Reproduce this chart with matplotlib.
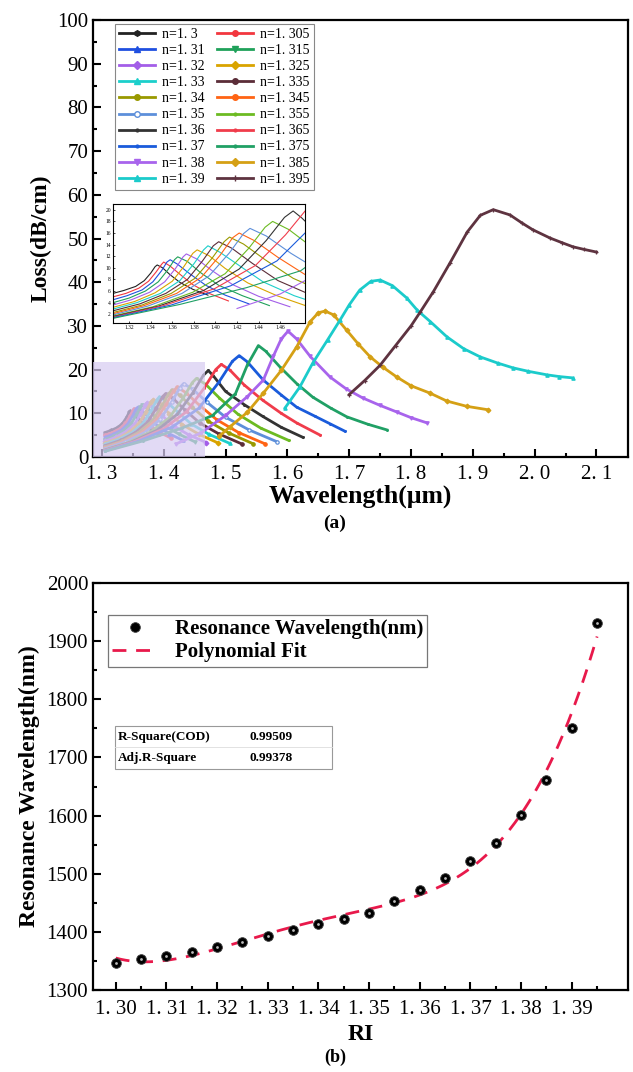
import numpy as np
import matplotlib.pyplot as plt
from matplotlib.patches import Rectangle
from matplotlib.lines import Line2D

plt.rcParams['font.family'] = ['Liberation Serif', 'DejaVu Serif']
plt.rcParams['mathtext.fontset'] = 'stix'

# ---------------- panel (a) data: loss spectra ----------------
ri = [1.300, 1.305, 1.310, 1.315, 1.320, 1.325, 1.330, 1.335, 1.340, 1.345,
      1.350, 1.355, 1.360, 1.365, 1.370, 1.375, 1.380, 1.385, 1.390, 1.395]
ri_labels = ['n=1. 3', 'n=1. 305', 'n=1. 31', 'n=1. 315', 'n=1. 32', 'n=1. 325',
             'n=1. 33', 'n=1. 335', 'n=1. 34', 'n=1. 345', 'n=1. 35', 'n=1. 355',
             'n=1. 36', 'n=1. 365', 'n=1. 37', 'n=1. 375', 'n=1. 38', 'n=1. 385',
             'n=1. 39', 'n=1. 395']

wl_1300 = [1.305, 1.315, 1.326, 1.334, 1.340, 1.344, 1.346, 1.351, 1.358, 1.367, 1.379, 1.393]
loss_1300 = [5.6, 6.1, 6.8, 7.8, 9.1, 10.2, 10.5, 10.0, 8.8, 7.5, 6.3, 5.3]
wl_1305 = [1.305, 1.317, 1.329, 1.338, 1.345, 1.350, 1.352, 1.358, 1.367, 1.379, 1.394, 1.412]
loss_1305 = [5.0, 5.6, 6.5, 7.7, 9.3, 10.6, 11.0, 10.3, 8.9, 7.1, 5.6, 4.3]
wl_1310 = [1.305, 1.318, 1.332, 1.342, 1.350, 1.355, 1.358, 1.365, 1.376, 1.391, 1.409, 1.431]
loss_1310 = [4.5, 5.2, 6.2, 7.6, 9.5, 11.0, 11.4, 10.6, 9.0, 7.0, 5.3, 3.8]
wl_1315 = [1.305, 1.320, 1.335, 1.347, 1.356, 1.362, 1.365, 1.374, 1.386, 1.403, 1.425, 1.450]
loss_1315 = [4.0, 4.8, 6.0, 7.6, 9.7, 11.4, 11.9, 11.1, 9.2, 7.0, 5.2, 3.5]
wl_1320 = [1.305, 1.322, 1.339, 1.353, 1.363, 1.370, 1.373, 1.383, 1.397, 1.416, 1.440, 1.469]
loss_1320 = [3.6, 4.5, 5.8, 7.6, 9.9, 11.9, 12.4, 11.5, 9.5, 7.1, 5.1, 3.3]
wl_1325 = [1.305, 1.325, 1.344, 1.360, 1.371, 1.379, 1.383, 1.394, 1.409, 1.430, 1.457, 1.488]
loss_1325 = [3.2, 4.2, 5.7, 7.7, 10.3, 12.5, 13.1, 12.1, 9.9, 7.4, 5.2, 3.2]
wl_1330 = [1.305, 1.327, 1.349, 1.367, 1.380, 1.389, 1.393, 1.404, 1.422, 1.444, 1.473, 1.507]
loss_1330 = [2.9, 4.0, 5.6, 7.8, 10.7, 13.1, 13.8, 12.7, 10.4, 7.6, 5.2, 3.1]
wl_1335 = [1.305, 1.330, 1.354, 1.374, 1.388, 1.398, 1.403, 1.415, 1.434, 1.458, 1.489, 1.526]
loss_1335 = [2.6, 3.8, 5.6, 8.0, 11.2, 13.8, 14.5, 13.4, 10.8, 7.8, 5.3, 3.0]
wl_1340 = [1.305, 1.332, 1.359, 1.381, 1.397, 1.408, 1.413, 1.426, 1.446, 1.472, 1.505, 1.545]
loss_1340 = [2.3, 3.6, 5.6, 8.2, 11.7, 14.5, 15.3, 14.1, 11.4, 8.2, 5.5, 3.0]
wl_1345 = [1.305, 1.334, 1.364, 1.387, 1.404, 1.416, 1.422, 1.436, 1.458, 1.486, 1.521, 1.564]
loss_1345 = [2.1, 3.5, 5.6, 8.4, 12.1, 15.2, 16.0, 14.7, 11.8, 8.5, 5.6, 3.0]
wl_1350 = [1.305, 1.337, 1.369, 1.394, 1.413, 1.426, 1.432, 1.447, 1.470, 1.500, 1.538, 1.583]
loss_1350 = [1.9, 3.4, 5.6, 8.6, 12.6, 15.9, 16.8, 15.5, 12.5, 9.1, 6.2, 3.5]
wl_1355 = [1.305, 1.342, 1.379, 1.409, 1.431, 1.446, 1.453, 1.468, 1.490, 1.520, 1.557, 1.602]
loss_1355 = [1.7, 3.3, 5.8, 9.0, 13.4, 17.0, 18.0, 16.6, 13.5, 9.8, 6.6, 3.8]
wl_1360 = [1.305, 1.347, 1.389, 1.422, 1.447, 1.464, 1.472, 1.480, 1.500, 1.530, 1.560, 1.590, 1.625]
loss_1360 = [1.6, 3.4, 6.1, 9.8, 14.7, 18.7, 19.8, 18.6, 15.0, 12.0, 9.3, 6.8, 4.5]
wl_1365 = [1.305, 1.352, 1.399, 1.437, 1.465, 1.484, 1.493, 1.507, 1.530, 1.560, 1.590, 1.615, 1.653]
loss_1365 = [1.5, 3.5, 6.4, 10.4, 15.7, 20.0, 21.2, 19.9, 16.5, 13.0, 10.0, 7.8, 5.0]
wl_1370 = [1.305, 1.359, 1.414, 1.457, 1.489, 1.511, 1.522, 1.535, 1.561, 1.590, 1.615, 1.645, 1.669, 1.693]
loss_1370 = [1.4, 3.6, 6.9, 11.2, 17.1, 21.9, 23.2, 21.8, 17.6, 14.2, 11.4, 9.3, 7.6, 5.9]
wl_1375 = [1.305, 1.367, 1.429, 1.479, 1.516, 1.535, 1.553, 1.565, 1.588, 1.615, 1.641, 1.670, 1.696, 1.730, 1.761]
loss_1375 = [1.3, 3.7, 6.6, 9.5, 14.5, 21.0, 25.5, 24.2, 20.6, 16.8, 13.7, 11.2, 9.2, 7.5, 6.2]
wl_1380 = [1.420, 1.460, 1.500, 1.535, 1.561, 1.577, 1.590, 1.601, 1.615, 1.637, 1.669, 1.695,
           1.722, 1.750, 1.777, 1.800, 1.826]
loss_1380 = [3.0, 5.5, 9.5, 13.8, 17.6, 23.0, 27.0, 28.8, 27.0, 23.0, 18.3, 15.6,
             13.5, 11.8, 10.3, 9.0, 7.8]
wl_1385 = [1.490, 1.507, 1.535, 1.561, 1.590, 1.615, 1.637, 1.650, 1.661, 1.675, 1.696, 1.715,
           1.734, 1.755, 1.777, 1.800, 1.831, 1.858, 1.890, 1.925]
loss_1385 = [4.8, 6.9, 10.2, 14.6, 19.8, 25.2, 31.0, 33.0, 33.4, 32.5, 29.0, 25.8,
             22.9, 20.5, 18.3, 16.3, 14.6, 12.8, 11.6, 10.8]
wl_1390 = [1.596, 1.620, 1.641, 1.665, 1.685, 1.700, 1.717, 1.735, 1.750, 1.770, 1.793, 1.810,
           1.831, 1.858, 1.885, 1.912, 1.940, 1.965, 1.990, 2.020, 2.040, 2.062]
loss_1390 = [11.2, 16.0, 21.5, 26.8, 31.3, 34.8, 38.2, 40.2, 40.5, 39.2, 36.4, 33.6,
             31.0, 27.5, 24.8, 22.9, 21.5, 20.4, 19.6, 18.8, 18.4, 18.1]
wl_1395 = [1.700, 1.725, 1.750, 1.775, 1.800, 1.815, 1.836, 1.863, 1.891, 1.912, 1.933, 1.960,
           1.980, 1.997, 2.025, 2.045, 2.062, 2.080, 2.100]
loss_1395 = [14.3, 17.5, 21.0, 25.5, 30.0, 33.2, 37.8, 44.4, 51.5, 55.3, 56.6, 55.4,
             53.5, 52.0, 50.1, 49.0, 48.1, 47.5, 46.9]

wl_all = [wl_1300, wl_1305, wl_1310, wl_1315, wl_1320, wl_1325, wl_1330, wl_1335, wl_1340, wl_1345,
          wl_1350, wl_1355, wl_1360, wl_1365, wl_1370, wl_1375, wl_1380, wl_1385, wl_1390, wl_1395]
loss_all = [loss_1300, loss_1305, loss_1310, loss_1315, loss_1320, loss_1325, loss_1330, loss_1335,
            loss_1340, loss_1345, loss_1350, loss_1355, loss_1360, loss_1365, loss_1370, loss_1375,
            loss_1380, loss_1385, loss_1390, loss_1395]

colors = ['#222222', '#F2373F', '#1F4FE0', '#1FA15A', '#A35EE8', '#D9A400', '#1CCFCB', '#5B2D38',
          '#999900', '#FF6414', '#5D8FDA', '#6CBB22', '#333333', '#F03C4B', '#1A5BDB', '#20A065',
          '#A864EC', '#D5A015', '#1BCBCB', '#5E3340']
markers = ['h', 'o', '^', 'v', 'D', 'D', '^', 'o', 'o', 'o',
           'o', '.', '.', '.', '.', '.', 'v', 'D', '^', '+']

# ---------------- panel (b) data: resonance wavelength ----------------
ri_b = [1.300, 1.305, 1.310, 1.315, 1.320, 1.325, 1.330, 1.335, 1.340, 1.345,
        1.350, 1.355, 1.360, 1.365, 1.370, 1.375, 1.380, 1.385, 1.390, 1.395]
res_wl = [1346, 1353, 1358, 1365, 1374, 1383, 1393, 1403, 1414, 1422,
          1432, 1453, 1472, 1493, 1522, 1553, 1601, 1661, 1751, 1932]
r2_rows = [['R-Square(COD)', '0.99509'], ['Adj.R-Square', '0.99378']]

W, H = 633, 1072
fig = plt.figure(figsize=(W / 100, H / 100), dpi=100)

def box(l, t, r, b):
    return [l / W, 1 - b / H, (r - l) / W, (b - t) / H]

# ---------------- panel (a) ----------------
ax1 = fig.add_axes(box(93, 20, 628, 457))
for i in range(len(ri)):
    mfc = 'white' if i == 10 else colors[i]
    ax1.plot(wl_all[i], loss_all[i], color=colors[i], lw=2.0, marker=markers[i],
             ms=2.4, mfc=mfc, mec=colors[i], mew=0.9, zorder=2 + i * 0.01)

ax1.add_patch(Rectangle((1.2855, 0), 1.467 - 1.2855, 21.7, facecolor='#D8CCF2',
                        edgecolor='none', alpha=0.72, zorder=4))

ax1.set_xlim(1.2855, 2.151)
ax1.set_ylim(0, 100)
ax1.set_xticks(np.arange(1.3, 2.11, 0.1))
ax1.set_xticklabels(['1. 3', '1. 4', '1. 5', '1. 6', '1. 7', '1. 8', '1. 9', '2. 0', '2. 1'])
ax1.set_xticks(np.arange(1.35, 2.11, 0.1), minor=True)
ax1.set_yticks(np.arange(0, 101, 10))
ax1.set_yticks(np.arange(5, 100, 10), minor=True)
ax1.tick_params(which='both', direction='in', width=1.5, labelsize=15)
ax1.tick_params(which='major', length=6)
ax1.tick_params(which='minor', length=3)
ax1.tick_params(axis='x', pad=6)
for s in ax1.spines.values():
    s.set_linewidth(1.6)
ax1.set_ylabel('Loss(dB/cm)', fontsize=17, fontweight='bold', labelpad=4)
ax1.set_xlabel('Wavelength(μm)', fontsize=18.5, fontweight='bold')
ax1.xaxis.set_label_coords(0.5, -0.064)

# legend: column-wise ordering like the original
handles = [Line2D([], [], color=colors[i], lw=2.0, marker=markers[i], ms=4,
                  mfc=('white' if i == 10 else colors[i]), mec=colors[i]) for i in range(len(ri))]
order = list(range(0, 20, 2)) + list(range(1, 20, 2))
leg = ax1.legend([handles[i] for i in order], [ri_labels[i] for i in order], ncol=2,
                 loc='upper left', bbox_to_anchor=(0.041, 0.991), borderaxespad=0,
                 fontsize=10, handlelength=2.6, labelspacing=0.22, columnspacing=0.9,
                 handletextpad=0.5, fancybox=False, edgecolor='#888888', framealpha=1,
                 borderpad=0.3)
leg.get_frame().set_linewidth(0.8)
leg.set_zorder(10)

# inset
axin = fig.add_axes(box(113, 204, 305, 323))
for i in range(len(ri)):
    axin.plot(wl_all[i], loss_all[i], color=colors[i], lw=0.8)
axin.set_xlim(1.305, 1.483)
axin.set_ylim(0.5, 21)
axin.set_xticks(np.arange(1.32, 1.47, 0.02))
axin.set_xticklabels(['1.32', '1.34', '1.36', '1.38', '1.40', '1.42', '1.44', '1.46'])
axin.set_yticks(np.arange(2, 21, 2))
axin.tick_params(direction='in', labelsize=4, length=1.5, width=0.5, pad=1.5)
for s in axin.spines.values():
    s.set_linewidth(0.8)

fig.text(335 / W, 1 - 523 / H, '(a)', ha='center', va='center', fontsize=14, fontweight='bold')

# ---------------- panel (b) ----------------
ax2 = fig.add_axes(box(93, 583, 628, 990))
ri_arr = np.array(ri_b)
coef = np.polyfit((ri_arr - 1.35) * 100, res_wl, 4)
xfit = np.linspace(1.30, 1.395, 200)
yfit = np.polyval(coef, (xfit - 1.35) * 100)
ax2.plot(ri_b, res_wl, 'o', color='black', ms=7, mec='#444444', mew=0.6, zorder=3,
         label='Resonance Wavelength(nm)')
ax2.plot(ri_b, res_wl, 'o', color='#BBBBBB', ms=2, mew=0, zorder=4)
ax2.plot(xfit, yfit, color='#E8194B', lw=2.0, dashes=(5, 3.5), zorder=2, label='Polynomial Fit')

ax2.set_xlim(1.2955, 1.4011)
ax2.set_ylim(1300, 2000)
ax2.set_xticks(np.arange(1.30, 1.395, 0.01))
ax2.set_xticklabels(['1. 30', '1. 31', '1. 32', '1. 33', '1. 34', '1. 35', '1. 36', '1. 37',
                     '1. 38', '1. 39'])
ax2.set_xticks(np.arange(1.305, 1.40, 0.01), minor=True)
ax2.set_yticks(np.arange(1300, 2001, 100))
ax2.set_yticks(np.arange(1350, 2000, 100), minor=True)
ax2.tick_params(which='both', direction='in', width=1.5, labelsize=15)
ax2.tick_params(which='major', length=6)
ax2.tick_params(which='minor', length=3)
ax2.tick_params(axis='x', pad=7)
for s in ax2.spines.values():
    s.set_linewidth(1.6)
ax2.set_ylabel('Resonance Wavelength(nm)', fontsize=17, fontweight='bold', labelpad=5)
ax2.set_xlabel('RI', fontsize=17, fontweight='bold', labelpad=4)

leg2 = ax2.legend(loc='upper left', bbox_to_anchor=(0.028, 0.921), borderaxespad=0,
                  prop={'size': 15, 'weight': 'bold'}, handlelength=2.2, fancybox=False,
                  edgecolor='#777777', framealpha=1, labelspacing=0.15, borderpad=0.2)
leg2.get_frame().set_linewidth(0.9)

# fit statistics box
ax2.add_patch(Rectangle((0.041, 0.543), 0.406, 0.106, transform=ax2.transAxes, fill=False,
                        edgecolor='#999999', lw=0.8))
ax2.plot([0.041, 0.447], [0.596, 0.596], transform=ax2.transAxes, color='#DDDDDD', lw=0.6)
for j, (name, val) in enumerate(r2_rows):
    yy = 0.622 - j * 0.052
    ax2.text(0.046, yy, name, transform=ax2.transAxes, fontsize=9.5, fontweight='bold',
             va='center')
    ax2.text(0.293, yy, val, transform=ax2.transAxes, fontsize=9.5, fontweight='bold',
             va='center')

fig.text(335 / W, 1 - 1057 / H, '(b)', ha='center', va='center', fontsize=13, fontweight='bold')

fig.savefig('out.png', dpi=100)
